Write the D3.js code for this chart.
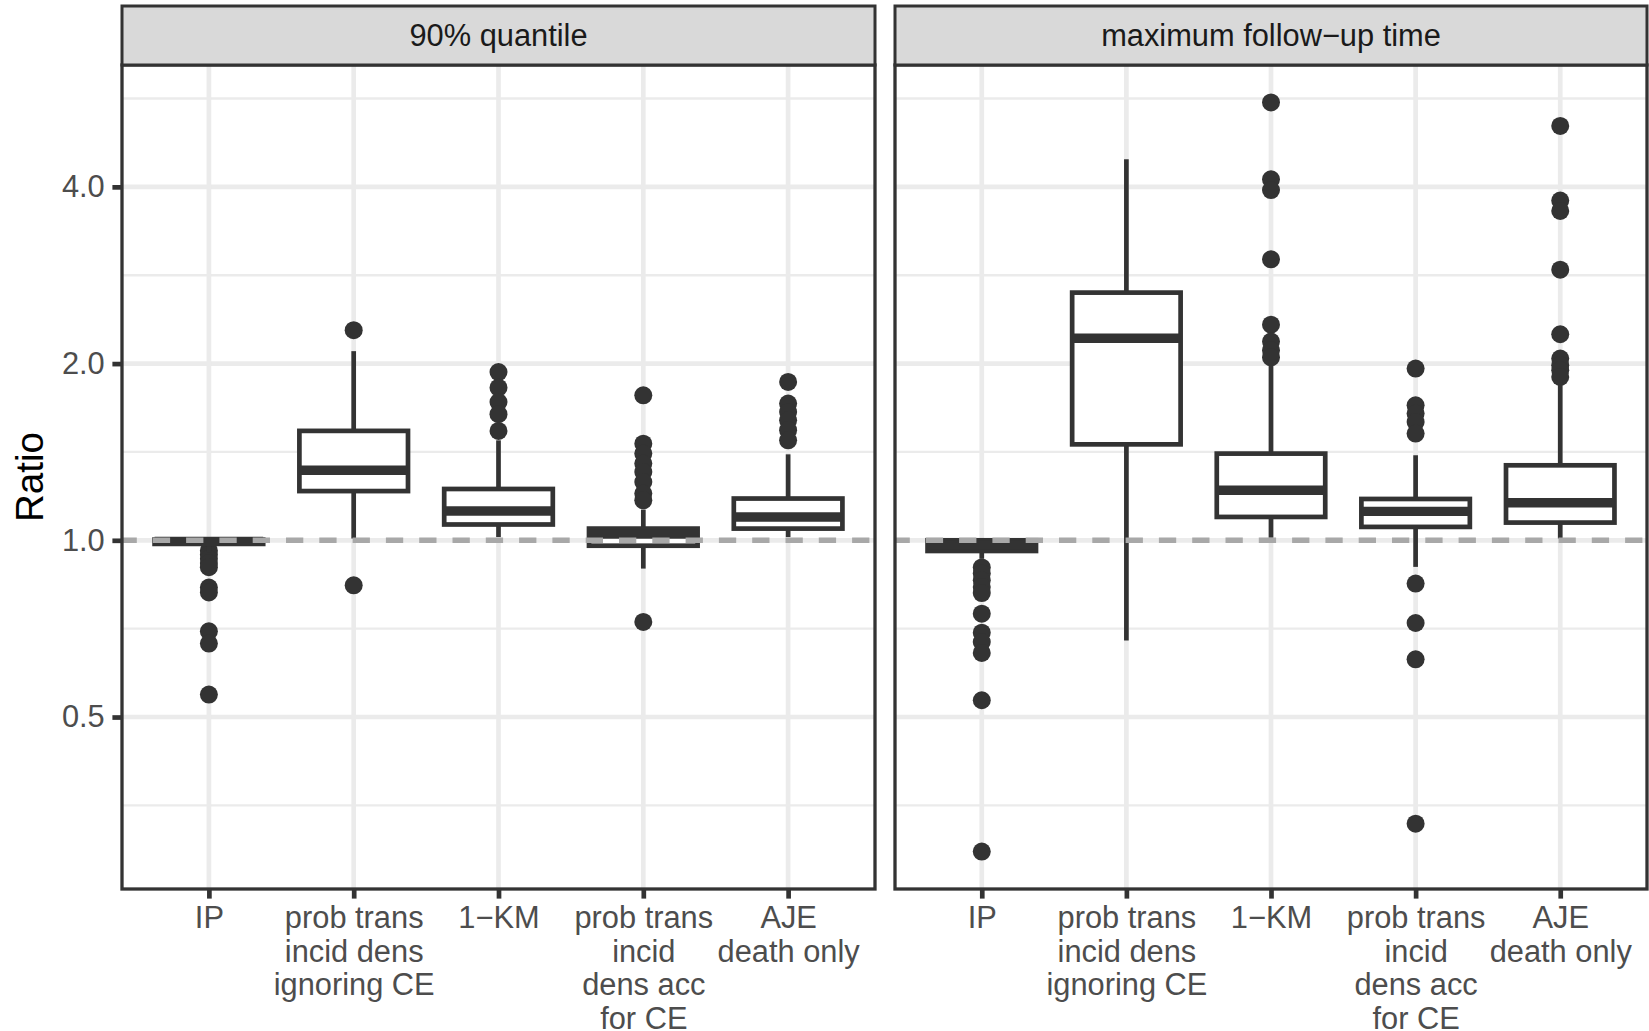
<!DOCTYPE html>
<html>
<head>
<meta charset="utf-8">
<script src="https://cdn.jsdelivr.net/npm/d3@7"></script>
<style>
  body { margin: 0; background: #fff; }
  text { font-family: "Liberation Sans", Arial, Helvetica, sans-serif; }
</style>
</head>
<body>
<div id="chart"></div>
<script>
// facets and x categories
const facets = ["90% quantile", "maximum follow\u2212up time"];
const methods = [
  "IP",
  "prob trans\nincid dens\nignoring CE",
  "1\u2212KM",
  "prob trans\nincid\ndens acc\nfor CE",
  "AJE\ndeath only"
];

// box stats per method: [lower whisker, q1, median, q3, upper whisker]
const q90Stats = [
  [0.955, 0.986, 0.996, 1.003, 1.003],
  [1.007, 1.213, 1.316, 1.536, 2.10],
  [1.013, 1.064, 1.122, 1.223, 1.48],
  [0.895, 0.979, 1.025, 1.047, 1.128],
  [1.013, 1.047, 1.096, 1.178, 1.401]
];
const q90Outliers = [
  [0.96, 0.945, 0.93, 0.915, 0.90, 0.831, 0.815, 0.70, 0.667, 0.546],
  [2.28, 0.838],
  [1.935, 1.82, 1.72, 1.64, 1.536],
  [1.766, 1.461, 1.405, 1.351, 1.307, 1.257, 1.201, 1.170, 0.726],
  [1.861, 1.710, 1.654, 1.601, 1.540, 1.480]
];

const maxStats = [
  [0.93, 0.959, 0.982, 1.0, 1.0],
  [0.675, 1.457, 2.209, 2.642, 4.457],
  [1.01, 1.096, 1.217, 1.405, 2.0],
  [0.901, 1.054, 1.120, 1.176, 1.396],
  [1.007, 1.072, 1.159, 1.342, 1.87]
];
const maxOutliers = [
  [0.899, 0.878, 0.855, 0.833, 0.813, 0.750, 0.696, 0.671, 0.643, 0.534, 0.295],
  [],
  [5.57, 4.12, 3.95, 3.01, 2.33, 2.18, 2.107, 2.05],
  [1.961, 1.698, 1.644, 1.590, 1.520, 0.844, 0.723, 0.627, 0.329],
  [5.08, 3.79, 3.64, 2.89, 2.244, 2.04, 1.987, 1.948, 1.898]
];

const yTicks = [0.5, 1.0, 2.0, 4.0];
const refLine = 1;

const width = 1649, height = 1031;
const stripTop = 6, panelTop = 65, panelBottom = 889;
const panelX = [[122, 875], [895, 1647]];

const dark = "#333333";
const gridCol = "#EBEBEB";
const lw = 4.7;

const svg = d3.select("#chart")
    .append("svg")
    .attr("width", width)
    .attr("height", height);

svg.append("rect")
    .attr("width", width)
    .attr("height", height)
    .attr("fill", "#fff");

const allVals = [q90Stats, q90Outliers, maxStats, maxOutliers].flat(2);
const lo = Math.log2(d3.min(allVals));
const hi = Math.log2(d3.max(allVals));
const pad = (hi - lo) * 0.05;

const y = d3.scaleLog()
    .base(2)
    .domain([2 ** (lo - pad), 2 ** (hi + pad)])
    .range([panelBottom, panelTop]);

// minor breaks sit halfway between majors on the log scale
const minorTicks = [yTicks[0] / Math.SQRT2].concat(yTicks.map(t => t * Math.SQRT2))
    .filter(t => t >= y.domain()[0] && t <= y.domain()[1]);

const panels = [
  { name: facets[0], stats: q90Stats, outliers: q90Outliers },
  { name: facets[1], stats: maxStats, outliers: maxOutliers }
];

panels.forEach((p, i) => {
  const [x0, x1] = panelX[i];
  const pw = x1 - x0;

  const x = d3.scalePoint()
      .domain(methods)
      .range([0, pw])
      .padding(0.6);
  const bw = x.step() * 0.75;

  const g = svg.append("g")
      .attr("transform", `translate(${x0}, 0)`);

  // grid
  g.selectAll(".minor")
      .data(minorTicks)
      .enter()
      .append("line")
      .attr("x1", 0).attr("x2", pw)
      .attr("y1", d => y(d)).attr("y2", d => y(d))
      .attr("stroke", gridCol)
      .attr("stroke-width", lw / 2);

  g.selectAll(".major")
      .data(yTicks)
      .enter()
      .append("line")
      .attr("x1", 0).attr("x2", pw)
      .attr("y1", d => y(d)).attr("y2", d => y(d))
      .attr("stroke", gridCol)
      .attr("stroke-width", lw);

  g.selectAll(".vgrid")
      .data(methods)
      .enter()
      .append("line")
      .attr("x1", d => x(d)).attr("x2", d => x(d))
      .attr("y1", panelTop).attr("y2", panelBottom)
      .attr("stroke", gridCol)
      .attr("stroke-width", lw);

  // boxes
  const boxes = g.selectAll(".box")
      .data(methods.map((m, j) => ({ m, s: p.stats[j], out: p.outliers[j] })))
      .enter()
      .append("g")
      .attr("transform", d => `translate(${x(d.m)}, 0)`);

  boxes.selectAll(".out")
      .data(d => d.out)
      .enter()
      .append("circle")
      .attr("cx", 0)
      .attr("cy", d => y(d))
      .attr("r", 9)
      .attr("fill", dark);

  boxes.append("line")
      .attr("y1", d => y(d.s[4])).attr("y2", d => y(d.s[3]))
      .attr("stroke", dark).attr("stroke-width", lw);
  boxes.append("line")
      .attr("y1", d => y(d.s[1])).attr("y2", d => y(d.s[0]))
      .attr("stroke", dark).attr("stroke-width", lw);

  boxes.append("rect")
      .attr("x", -bw / 2)
      .attr("width", bw)
      .attr("y", d => y(d.s[3]))
      .attr("height", d => y(d.s[1]) - y(d.s[3]))
      .attr("fill", "#fff")
      .attr("stroke", dark)
      .attr("stroke-width", lw);

  boxes.append("line")
      .attr("x1", -bw / 2).attr("x2", bw / 2)
      .attr("y1", d => y(d.s[2])).attr("y2", d => y(d.s[2]))
      .attr("stroke", dark)
      .attr("stroke-width", lw * 2);

  // dashed reference line
  g.append("line")
      .attr("x1", 0).attr("x2", pw)
      .attr("y1", y(refLine)).attr("y2", y(refLine))
      .attr("stroke", "#A8A8A8")
      .attr("stroke-width", 5.5)
      .attr("stroke-dasharray", "17.3,16")
      .attr("stroke-dashoffset", 2.5);

  // panel border
  g.append("rect")
      .attr("x", 0).attr("y", panelTop)
      .attr("width", pw).attr("height", panelBottom - panelTop)
      .attr("fill", "none")
      .attr("stroke", dark)
      .attr("stroke-width", 3.3);

  // strip
  g.append("rect")
      .attr("x", 0).attr("y", stripTop)
      .attr("width", pw).attr("height", panelTop - stripTop)
      .attr("fill", "#D9D9D9")
      .attr("stroke", dark)
      .attr("stroke-width", 3);

  g.append("text")
      .attr("x", pw / 2)
      .attr("y", 45.5)
      .attr("text-anchor", "middle")
      .attr("fill", "#1A1A1A")
      .style("font-size", "30.8px")
      .text(p.name);

  // x axis
  const xAxisGroup = g.append("g")
      .attr("transform", `translate(0, ${panelBottom})`)
      .call(d3.axisBottom(x).tickSize(9.6).tickPadding(7.7));
  xAxisGroup.select(".domain").remove();
  xAxisGroup.selectAll("line")
      .attr("stroke", dark)
      .attr("stroke-width", lw);
  xAxisGroup.selectAll("text")
      .attr("fill", "#4D4D4D")
      .style("font-size", "30.8px")
      .style("font-family", "'Liberation Sans', Arial, sans-serif")
      .each(function(d) {
        const t = d3.select(this);
        const lines = d.split("\n");
        t.text(null);
        lines.forEach((line, k) => {
          t.append("tspan")
              .attr("x", 0)
              .attr("dy", k === 0 ? "0.71em" : "33.6px")
              .text(line);
        });
      });

  // y axis on first panel only
  if (i === 0) {
    const yAxisGroup = g.append("g")
        .call(d3.axisLeft(y)
          .tickValues(yTicks)
          .tickFormat(d3.format(".1f"))
          .tickSize(9.6)
          .tickPadding(7.7));
    yAxisGroup.select(".domain").remove();
    yAxisGroup.selectAll("line")
        .attr("stroke", dark)
        .attr("stroke-width", lw);
    yAxisGroup.selectAll("text")
        .attr("fill", "#4D4D4D")
        .style("font-size", "30.8px")
        .style("font-family", "'Liberation Sans', Arial, sans-serif");
  }
});

svg.append("text")
    .attr("transform", `translate(29.5, ${(panelTop + panelBottom) / 2}) rotate(-90)`)
    .attr("text-anchor", "middle")
    .attr("dy", "0.36em")
    .attr("fill", "#000")
    .style("font-size", "38.5px")
    .text("Ratio");
</script>
</body>
</html>
